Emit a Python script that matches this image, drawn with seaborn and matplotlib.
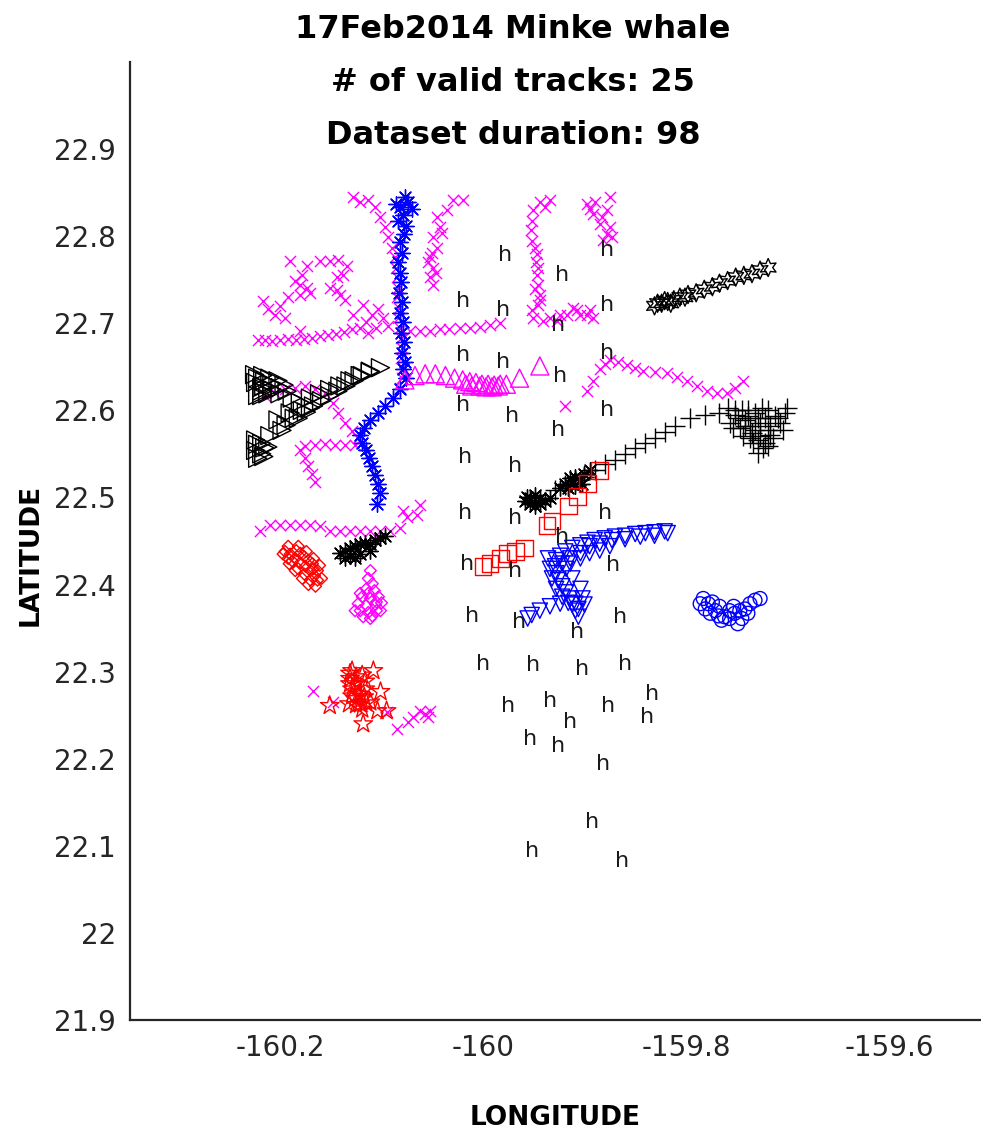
import numpy as np
import pandas as pd
import matplotlib
matplotlib.use("Agg")
import matplotlib.pyplot as plt
import seaborn as sns

# ---------------- data (longitude / latitude) ----------------
# hydrophone labels "h"
h_lon = [-159.978, -159.878, -159.922, -160.020, -159.980, -159.878, -159.926, -160.020, -159.980,
         -159.878, -159.924, -160.020, -159.971, -159.878, -159.926, -160.018, -159.968, -160.018,
         -159.968, -159.880, -159.922, -160.016, -159.968, -159.872, -160.011, -159.964, -159.907,
         -159.865, -160.000, -159.951, -159.902, -159.860, -159.833, -159.975, -159.934, -159.877,
         -159.838, -159.914, -159.954, -159.926, -159.882, -159.893, -159.952, -159.863]
h_lat = [22.778, 22.784, 22.756, 22.726, 22.715, 22.721, 22.698, 22.663, 22.655,
         22.666, 22.640, 22.606, 22.594, 22.600, 22.577, 22.547, 22.536, 22.482,
         22.476, 22.482, 22.455, 22.424, 22.416, 22.422, 22.364, 22.357, 22.346,
         22.363, 22.309, 22.308, 22.303, 22.309, 22.274, 22.261, 22.266, 22.261,
         22.248, 22.242, 22.223, 22.215, 22.194, 22.127, 22.094, 22.082]

# blue asterisk track
blue_star_lon = [-160.077, -160.074, -160.082, -160.070, -160.086, -160.079, -160.084, -160.076, -160.078,
                 -160.082, -160.080, -160.084, -160.082, -160.081, -160.083, -160.080, -160.082, -160.079,
                 -160.081, -160.078, -160.080, -160.077, -160.079, -160.076, -160.082, -160.089, -160.097,
                 -160.103, -160.111, -160.117, -160.121, -160.119, -160.115, -160.112, -160.109, -160.106,
                 -160.103, -160.101, -160.104]
blue_star_lat = [22.845, 22.839, 22.833, 22.831, 22.837, 22.824, 22.817, 22.812, 22.803,
                 22.793, 22.781, 22.770, 22.758, 22.747, 22.735, 22.724, 22.712, 22.701,
                 22.689, 22.678, 22.666, 22.655, 22.647, 22.637, 22.624, 22.614, 22.605,
                 22.597, 22.589, 22.580, 22.572, 22.562, 22.554, 22.545, 22.536, 22.526,
                 22.515, 22.505, 22.493]

# magenta x tracks
mag1_lon = [-160.128, -160.121, -160.113, -160.106, -160.101, -160.097, -160.094, -160.090, -160.087,
            -160.086, -160.085, -160.084, -160.085, -160.083, -160.084, -160.082, -160.081, -160.080,
            -160.081, -160.079, -160.080, -160.082]
mag1_lat = [22.845, 22.839, 22.841, 22.833, 22.822, 22.810, 22.799, 22.787, 22.776,
            22.764, 22.753, 22.741, 22.730, 22.718, 22.706, 22.695, 22.683, 22.672,
            22.660, 22.649, 22.637, 22.626]
mag2_lon = [-160.222, -160.215, -160.208, -160.200, -160.192, -160.184, -160.176, -160.168, -160.161,
            -160.153, -160.145, -160.137, -160.129, -160.121, -160.115, -160.109, -160.103, -160.099,
            -160.094, -160.105, -160.113, -160.072, -160.062, -160.052, -160.042, -160.033, -160.023,
            -160.013, -160.003, -159.993, -159.983]
mag2_lat = [22.681, 22.681, 22.680, 22.681, 22.682, 22.681, 22.682, 22.683, 22.685,
            22.686, 22.688, 22.690, 22.693, 22.695, 22.701, 22.709, 22.716, 22.706,
            22.697, 22.695, 22.689, 22.691, 22.691, 22.691, 22.693, 22.693, 22.694,
            22.695, 22.696, 22.698, 22.700]
mag3_lon = [-160.190, -160.173, -160.161, -160.151, -160.143, -160.134, -160.178, -160.173, -160.180,
            -160.144, -160.138, -160.144, -160.217, -160.200, -160.195, -160.180, -160.128, -160.118,
            -160.185, -160.180, -160.151, -160.141, -160.136, -160.170, -160.212, -160.205, -160.192]
mag3_lat = [22.772, 22.766, 22.772, 22.772, 22.773, 22.766, 22.756, 22.741, 22.733,
            22.753, 22.755, 22.738, 22.726, 22.720, 22.706, 22.691, 22.710, 22.721,
            22.749, 22.744, 22.741, 22.732, 22.727, 22.735, 22.716, 22.709, 22.730]
mag4_lon = [-160.030, -160.020, -160.035, -160.045, -160.042, -160.049, -160.045, -160.052, -160.049,
            -160.052, -160.049, -160.054, -160.046, -160.050, -160.040]
mag4_lat = [22.841, 22.841, 22.830, 22.822, 22.810, 22.799, 22.787, 22.776, 22.764,
            22.753, 22.744, 22.770, 22.758, 22.781, 22.804]
mag5_lon = [-160.215, -160.205, -160.195, -160.185, -160.175, -160.166, -160.156, -160.148, -160.143,
            -160.136, -160.129, -160.123, -160.126, -160.136, -160.146, -160.156, -160.166, -160.175,
            -160.180, -160.175, -160.172, -160.168, -160.166]
mag5_lat = [22.617, 22.620, 22.624, 22.626, 22.628, 22.624, 22.620, 22.609, 22.597,
            22.585, 22.576, 22.568, 22.560, 22.560, 22.560, 22.561, 22.560, 22.559,
            22.554, 22.545, 22.536, 22.527, 22.518]
mag6_lon = [-160.220, -160.210, -160.200, -160.190, -160.180, -160.170, -160.161, -160.151, -160.141,
            -160.131, -160.121, -160.111, -160.101, -160.092, -160.082, -160.075, -160.065, -160.062,
            -160.079]
mag6_lat = [22.461, 22.468, 22.468, 22.468, 22.468, 22.468, 22.467, 22.462, 22.461,
            22.461, 22.461, 22.461, 22.461, 22.462, 22.465, 22.478, 22.480, 22.491, 22.484]
mag7_lon = [-159.944, -159.934, -159.939, -159.951, -159.952, -159.953, -159.952, -159.947, -159.947,
            -159.946, -159.944, -159.946, -159.951, -159.941, -159.927, -159.917, -159.907, -159.898,
            -159.892, -159.911, -159.949, -159.948, -159.946, -159.949, -159.944, -159.952, -159.934,
            -159.924, -159.904, -159.895]
mag7_lat = [22.839, 22.841, 22.833, 22.830, 22.818, 22.807, 22.795, 22.779, 22.756,
            22.744, 22.733, 22.721, 22.706, 22.703, 22.703, 22.710, 22.715, 22.709,
            22.706, 22.718, 22.787, 22.770, 22.764, 22.739, 22.727, 22.715, 22.706,
            22.709, 22.709, 22.715]
mag8_lon = [-159.898, -159.875, -159.878, -159.892, -159.885, -159.878, -159.882, -159.873,
            -159.890, -159.883, -159.875, -159.895]
mag8_lat = [22.837, 22.845, 22.830, 22.825, 22.814, 22.802, 22.796, 22.799,
            22.839, 22.822, 22.810, 22.831]
mag9_lon = [-159.898, -159.892, -159.885, -159.880, -159.875, -159.867, -159.858, -159.850, -159.842,
            -159.831, -159.819, -159.809, -159.799, -159.789, -159.779, -159.769, -159.760, -159.752,
            -159.744, -159.919]
mag9_lat = [22.622, 22.634, 22.647, 22.653, 22.658, 22.656, 22.652, 22.649, 22.645,
            22.644, 22.643, 22.638, 22.634, 22.628, 22.622, 22.620, 22.620, 22.626,
            22.634, 22.605]
mag10_lon = [-160.167, -160.148, -160.119, -160.095, -160.085, -160.074, -160.069, -160.062, -160.057,
             -160.052, -160.054]
mag10_lat = [22.278, 22.265, 22.260, 22.254, 22.234, 22.242, 22.248, 22.255, 22.251,
             22.255, 22.248]

# magenta triangles (up)
mag_tri_lon = [-160.077, -160.067, -160.057, -160.047, -160.037, -160.028, -160.020, -160.013,
               -160.007, -160.001, -159.995, -159.989, -159.983, -159.977, -159.964, -159.944,
               -160.011, -160.003, -159.997, -159.991, -159.985, -160.017]
mag_tri_lat = [22.635, 22.640, 22.642, 22.642, 22.640, 22.637, 22.635, 22.633,
               22.632, 22.630, 22.630, 22.629, 22.630, 22.630, 22.637, 22.651,
               22.628, 22.628, 22.627, 22.627, 22.628, 22.630]

# magenta diamonds
mag_dia_lon = [-160.111, -160.113, -160.109, -160.115, -160.107, -160.119, -160.111, -160.103, -160.123,
               -160.115, -160.106, -160.100, -160.121, -160.113, -160.105, -160.118, -160.109,
               -160.121, -160.113, -160.105, -160.126, -160.101, -160.111]
mag_dia_lat = [22.416, 22.407, 22.401, 22.395, 22.393, 22.386, 22.384, 22.386, 22.378,
               22.376, 22.377, 22.379, 22.370, 22.368, 22.370, 22.363, 22.364,
               22.390, 22.390, 22.380, 22.370, 22.370, 22.361]

# black right-pointing triangles
blk_tri_lon = [-160.222, -160.215, -160.208, -160.218, -160.200, -160.193, -160.212, -160.222, -160.188,
               -160.180, -160.170, -160.161, -160.151, -160.141, -160.131, -160.121, -160.111, -160.101,
               -160.202, -160.194, -160.186, -160.198, -160.210, -160.222, -160.215, -160.218, -160.178,
               -160.170, -160.190,
               -160.225, -160.217, -160.210, -160.202, -160.196, -160.224, -160.216, -160.208, -160.200,
               -160.218, -160.218, -160.224, -160.218, -160.212, -160.224, -160.216, -160.222,
               -160.182, -160.174, -160.167, -160.159, -160.151, -160.143, -160.135, -160.127, -160.119,
               -160.111]
blk_tri_lat = [22.637, 22.634, 22.630, 22.626, 22.626, 22.622, 22.619, 22.617, 22.614,
               22.609, 22.614, 22.619, 22.624, 22.628, 22.634, 22.640, 22.644, 22.649,
               22.589, 22.583, 22.591, 22.577, 22.571, 22.561, 22.557, 22.550, 22.600,
               22.603, 22.597,
               22.641, 22.640, 22.637, 22.634, 22.629, 22.632, 22.628, 22.624, 22.619,
               22.622, 22.617, 22.566, 22.562, 22.558, 22.554, 22.547, 22.545,
               22.591, 22.598, 22.605, 22.611, 22.617, 22.622, 22.628, 22.634, 22.640,
               22.645]

# black plus track
blk_plus_lon = [-159.929, -159.919, -159.909, -159.900, -159.890, -159.880, -159.870, -159.860, -159.850,
                -159.840, -159.831, -159.821, -159.811, -159.796, -159.781, -159.767, -159.752, -159.742,
                -159.737, -159.732, -159.727, -159.722, -159.717, -159.712, -159.702, -159.727, -159.737,
                -159.722, -159.747, -159.757, -159.717, -159.707, -159.732, -159.745, -159.752, -159.739,
                -159.729, -159.719, -159.735, -159.742, -159.725,
                -159.759, -159.749, -159.739, -159.729, -159.719, -159.709, -159.700, -159.754, -159.744,
                -159.734, -159.724, -159.714, -159.704, -159.729, -159.719]
blk_plus_lat = [22.508, 22.514, 22.520, 22.524, 22.531, 22.538, 22.543, 22.550, 22.557,
                22.562, 22.568, 22.575, 22.582, 22.591, 22.595, 22.597, 22.595, 22.589,
                22.582, 22.577, 22.585, 22.591, 22.582, 22.594, 22.597, 22.571, 22.568,
                22.562, 22.580, 22.585, 22.572, 22.585, 22.597, 22.600, 22.600, 22.593,
                22.566, 22.577, 22.574, 22.582, 22.603,
                22.603, 22.591, 22.600, 22.591, 22.600, 22.591, 22.603, 22.580, 22.571,
                22.562, 22.557, 22.568, 22.577, 22.551, 22.559]

# black dense asterisk clusters
blk_star_lon = [-159.959, -159.954, -159.949, -159.944, -159.939, -159.949, -159.954, -159.944, -159.934,
                -159.957, -159.924, -159.919, -159.914, -159.909, -159.904, -159.900, -159.895, -159.909,
                -159.916, -159.902, -160.141, -160.136, -160.131, -160.126, -160.121, -160.116, -160.111,
                -160.106, -160.101, -160.097, -160.131, -160.121, -160.111, -160.136, -160.126]
blk_star_lat = [22.496, 22.499, 22.503, 22.499, 22.496, 22.490, 22.492, 22.492, 22.499,
                22.501, 22.511, 22.516, 22.522, 22.524, 22.520, 22.527, 22.531, 22.513,
                22.511, 22.515, 22.436, 22.439, 22.442, 22.444, 22.446, 22.448, 22.447,
                22.451, 22.453, 22.456, 22.433, 22.435, 22.439, 22.430, 22.430]

# black hexagrams
blk_hex_lon = [-159.831, -159.824, -159.818, -159.812, -159.806, -159.798, -159.790, -159.782,
               -159.774, -159.767, -159.759, -159.751, -159.743, -159.735, -159.727, -159.719,
               -159.828, -159.821, -159.815, -159.801]
blk_hex_lat = [22.720, 22.723, 22.725, 22.727, 22.730, 22.733, 22.735, 22.739,
               22.742, 22.746, 22.749, 22.753, 22.755, 22.757, 22.761, 22.764,
               22.723, 22.726, 22.723, 22.730]

# red squares
red_sq_lon = [-160.000, -159.993, -159.983, -159.976, -159.968, -159.959, -159.937, -159.932,
              -159.916, -159.907, -159.897, -159.885]
red_sq_lat = [22.421, 22.424, 22.430, 22.436, 22.438, 22.442, 22.468, 22.473,
              22.490, 22.501, 22.516, 22.531]

# blue down triangles
blue_v_lon = [-159.821, -159.831, -159.840, -159.850, -159.860, -159.870, -159.880, -159.890, -159.897,
              -159.904, -159.912, -159.919, -159.924, -159.928, -159.929, -159.928, -159.926, -159.922,
              -159.918, -159.914, -159.909, -159.906, -159.912, -159.924, -159.934, -159.944, -159.952,
              -159.956, -159.895, -159.885, -159.875, -159.904, -159.914,
              -159.936, -159.934, -159.932, -159.928, -159.922, -159.916, -159.909, -159.902, -159.904,
              -159.912, -159.918, -159.922, -159.914, -159.904, -159.895, -159.885, -159.873, -159.860,
              -159.845, -159.831, -159.818, -159.906, -159.900]
blue_v_lat = [22.461, 22.460, 22.459, 22.458, 22.456, 22.455, 22.453, 22.451, 22.448,
              22.445, 22.442, 22.438, 22.433, 22.428, 22.421, 22.413, 22.405, 22.398,
              22.391, 22.384, 22.378, 22.372, 22.377, 22.378, 22.375, 22.370, 22.365,
              22.361, 22.436, 22.439, 22.444, 22.430, 22.424,
              22.430, 22.418, 22.407, 22.395, 22.386, 22.379, 22.370, 22.384, 22.395,
              22.407, 22.418, 22.424, 22.430, 22.436, 22.444, 22.447, 22.451, 22.452,
              22.455, 22.456, 22.459, 22.363, 22.377]

# blue circles
blue_o_lon = [-159.786, -159.781, -159.776, -159.771, -159.767, -159.774, -159.762, -159.757, -159.752,
              -159.747, -159.742, -159.745, -159.737, -159.732, -159.727, -159.749, -159.757,
              -159.783, -159.778, -159.768, -159.765, -159.753, -159.739]
blue_o_lat = [22.378, 22.372, 22.367, 22.370, 22.375, 22.380, 22.363, 22.361, 22.367,
              22.370, 22.372, 22.361, 22.378, 22.382, 22.384, 22.355, 22.370,
              22.384, 22.378, 22.364, 22.359, 22.375, 22.367]

# red diamonds
red_dia_lon = [-160.195, -160.190, -160.185, -160.180, -160.175, -160.170, -160.166, -160.163, -160.165,
               -160.188, -160.182, -160.176, -160.170, -160.192, -160.180, -160.172, -160.167,
               -160.192, -160.184, -160.176, -160.168, -160.163, -160.159, -160.197, -160.191, -160.185,
               -160.178, -160.172, -160.182, -160.174, -160.167, -160.161]
red_dia_lat = [22.438, 22.435, 22.430, 22.425, 22.421, 22.416, 22.410, 22.405, 22.398,
               22.427, 22.418, 22.412, 22.405, 22.430, 22.436, 22.428, 22.418,
               22.444, 22.439, 22.432, 22.424, 22.416, 22.407, 22.435, 22.424, 22.416,
               22.407, 22.400, 22.444, 22.438, 22.430, 22.422]

# red pentagrams
red_pent_lon = [-160.151, -160.131, -160.126, -160.129, -160.123, -160.126, -160.121, -160.119, -160.131,
                -160.116, -160.108, -160.101, -160.111, -160.104, -160.095, -160.118, -160.121,
                -160.129, -160.125, -160.119, -160.131, -160.116, -160.129, -160.117, -160.125, -160.115,
                -160.132]
red_pent_lat = [22.261, 22.292, 22.286, 22.280, 22.274, 22.269, 22.263, 22.257, 22.298,
                22.289, 22.301, 22.277, 22.265, 22.255, 22.255, 22.240, 22.274,
                22.301, 22.294, 22.296, 22.286, 22.280, 22.272, 22.271, 22.262, 22.264,
                22.263]

x_ticks = [-160.2, -160.0, -159.8, -159.6]
x_tick_labels = ["-160.2", "-160", "-159.8", "-159.6"]
y_ticks = [21.9, 22.0, 22.1, 22.2, 22.3, 22.4, 22.5, 22.6, 22.7, 22.8, 22.9]
y_tick_labels = ["21.9", "22", "22.1", "22.2", "22.3", "22.4", "22.5", "22.6", "22.7", "22.8", "22.9"]
title_lines = ["17Feb2014 Minke whale", "# of valid tracks: 25", "Dataset duration: 98"]

# ---------------- plotting ----------------
sns.set_theme(style="white")
plt.rcParams['font.family'] = ['DejaVu Sans']

MAG, BLU, RED, BLK = "#FF00FF", "#0000FF", "#FF0000", "#000000"
ASTER = (8, 2, 0)
HEXA = (6, 1, 0)

tracks = [
    (mag1_lon, mag1_lat, 'x', MAG, 8, False),
    (mag2_lon, mag2_lat, 'x', MAG, 8, False),
    (mag3_lon, mag3_lat, 'x', MAG, 8, False),
    (mag4_lon, mag4_lat, 'x', MAG, 8, False),
    (mag5_lon, mag5_lat, 'x', MAG, 8, False),
    (mag6_lon, mag6_lat, 'x', MAG, 8, False),
    (mag7_lon, mag7_lat, 'x', MAG, 8, False),
    (mag8_lon, mag8_lat, 'x', MAG, 8, False),
    (mag9_lon, mag9_lat, 'x', MAG, 8, False),
    (mag10_lon, mag10_lat, 'x', MAG, 8, False),
    (blue_star_lon, blue_star_lat, ASTER, BLU, 11, False),
    (mag_tri_lon, mag_tri_lat, '^', MAG, 13, True),
    (mag_dia_lon, mag_dia_lat, 'D', MAG, 6, True),
    (blk_tri_lon, blk_tri_lat, '>', BLK, 13, True),
    (blk_plus_lon, blk_plus_lat, '+', BLK, 14, False),
    (blk_star_lon, blk_star_lat, ASTER, BLK, 11, False),
    (blk_hex_lon, blk_hex_lat, HEXA, BLK, 13, True),
    (red_sq_lon, red_sq_lat, 's', RED, 12, True),
    (blue_v_lon, blue_v_lat, 'v', BLU, 11, True),
    (blue_o_lon, blue_o_lat, 'o', BLU, 10, True),
    (red_dia_lon, red_dia_lat, 'D', RED, 6, True),
    (red_pent_lon, red_pent_lat, '*', RED, 14, True),
]

fig = plt.figure(figsize=(9.81, 11.36), dpi=100)
ax = fig.add_axes([130 / 981, 1 - 1020 / 1136, 850 / 981, (1020 - 62) / 1136])

for lon, lat, mk, col, ms, fillable in tracks:
    df = pd.DataFrame({"lon": lon, "lat": lat})
    if fillable:
        sns.scatterplot(data=df, x="lon", y="lat", marker=mk, s=ms ** 2, color=col,
                        facecolor="none", edgecolor=col, linewidth=1.0, ax=ax, legend=False)
    else:
        sns.scatterplot(data=df, x="lon", y="lat", marker=mk, s=ms ** 2, color=col,
                        linewidth=1.0, ax=ax, legend=False)

for hx, hy in zip(h_lon, h_lat):
    ax.text(hx, hy, "h", ha="center", va="center", fontsize=16, color="#1a1a1a")

ax.set_xlim(-160.3478, -159.5103)
ax.set_ylim(21.9, 23.0)
ax.set_xticks(x_ticks)
ax.set_xticklabels(x_tick_labels, fontsize=20, color="#262626")
ax.set_yticks(y_ticks)
ax.set_yticklabels(y_tick_labels, fontsize=20, color="#262626")
ax.tick_params(direction="in", length=9, width=1.3, color="#262626", pad=10)
ax.set_xlabel("")
ax.set_ylabel("")
for s in ["top", "right"]:
    ax.spines[s].set_visible(False)
for s in ["left", "bottom"]:
    ax.spines[s].set_linewidth(1.6)
    ax.spines[s].set_color("#262626")
ax.grid(False)

for i, line in enumerate(title_lines):
    fig.text(513 / 981, 1 - (29 + 53.5 * i) / 1136, line, ha="center", va="center",
             fontsize=23, fontweight="bold", color="black")

fig.text(555 / 981, 1 - 1118 / 1136, "LONGITUDE", ha="center", va="center",
         fontsize=19, fontweight="bold", color="black")
fig.text(31 / 981, 1 - 555 / 1136, "LATITUDE", ha="center", va="center", rotation=90,
         fontsize=19, fontweight="bold", color="black")

fig.savefig("out.png", dpi=100, facecolor="white")
